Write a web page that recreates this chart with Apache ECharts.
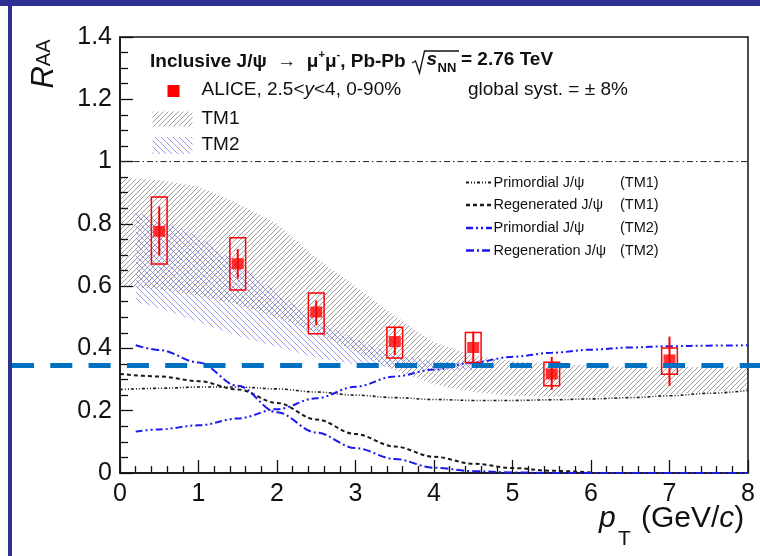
<!DOCTYPE html>
<html>
<head>
<meta charset="utf-8">
<script src="https://cdn.jsdelivr.net/npm/echarts@6/dist/echarts.min.js"></script>
<style>
  html, body { margin: 0; padding: 0; background: #ffffff; }
  #chart { width: 760px; height: 556px; }
</style>
</head>
<body>
<div id="chart"></div>
<script>
// ---- ALICE inclusive J/psi R_AA vs pT (2.5<y<4, 0-90%) ----
const ptCenters = [0.5, 1.5, 2.5, 3.5, 4.5, 5.5, 7];
const raa       = [0.776, 0.672, 0.517, 0.422, 0.403, 0.318, 0.363];
const statLow   = [0.698, 0.624, 0.474, 0.379, 0.355, 0.267, 0.280];
const statHigh  = [0.856, 0.719, 0.554, 0.466, 0.454, 0.373, 0.438];
const systLow   = [0.671, 0.588, 0.447, 0.369, 0.355, 0.280, 0.317];
const systHigh  = [0.886, 0.755, 0.578, 0.468, 0.451, 0.356, 0.401];

// ---- TM1 model band ----
const tm1Pt    = [0, 0.5, 1, 1.5, 2, 2.5, 3, 3.5, 4, 4.5, 5, 5.5, 6, 6.5, 7, 7.5, 8];
const tm1Upper = [0.95, 0.94, 0.92, 0.865, 0.80, 0.69, 0.60, 0.505, 0.42, 0.377, 0.36, 0.35, 0.345, 0.34, 0.34, 0.34, 0.342];
const tm1Lower = [0.60, 0.59, 0.57, 0.54, 0.50, 0.45, 0.39, 0.33, 0.285, 0.26, 0.248, 0.245, 0.245, 0.248, 0.252, 0.26, 0.268];

// ---- TM2 model band ----
const tm2Pt    = [0.2, 0.5, 1, 1.5, 2, 2.5, 3, 3.5, 4, 4.5];
const tm2Upper = [0.84, 0.81, 0.76, 0.67, 0.58, 0.49, 0.43, 0.378, 0.36, 0.355];
const tm2Lower = [0.55, 0.53, 0.485, 0.44, 0.405, 0.37, 0.348, 0.338, 0.333, 0.33];

// ---- model components ----
const tm1CurvePt      = [0, 0.5, 1, 1.5, 2, 2.5, 3, 3.5, 4, 4.5, 5, 5.5, 6, 6.5, 7, 7.5, 8];
const primordialTM1   = [0.268, 0.272, 0.276, 0.276, 0.27, 0.26, 0.25, 0.242, 0.236, 0.233, 0.233, 0.235, 0.238, 0.242, 0.248, 0.256, 0.265];
const regenPtTM1      = [0, 0.5, 1, 1.5, 2, 2.5, 3, 3.5, 4, 4.5, 5, 5.5, 6];
const regeneratedTM1  = [0.318, 0.31, 0.295, 0.268, 0.225, 0.172, 0.125, 0.085, 0.052, 0.03, 0.016, 0.007, 0.002];
const tm2CurvePt      = [0.2, 0.5, 1, 1.5, 2, 2.5, 3, 3.5, 4, 4.5, 5, 5.5, 6, 6.5, 7, 7.5, 8];
const primordialTM2   = [0.133, 0.14, 0.153, 0.175, 0.205, 0.24, 0.277, 0.31, 0.332, 0.355, 0.373, 0.386, 0.396, 0.403, 0.407, 0.409, 0.41];
const regenerationTM2 = [0.41, 0.395, 0.355, 0.28, 0.195, 0.13, 0.08, 0.045, 0.017, 0.006, 0.002, 0, 0, 0, 0, 0, 0];

// ---- reference levels and axis ranges ----
const unityLevel = 1;
const referenceLevel = 0.345;
const xMin = 0, xMax = 8, xStep = 1;
const yMin = 0, yMax = 1.4, yStep = 0.2;
const BOX_HALF_WIDTH = 0.1;

const FONT = '"Liberation Sans", Arial, Helvetica, sans-serif';
const RED = '#ff0000';
const BLUE = '#1a1aee';
const DARK = '#1a1a1a';
const NAVY = '#2e3192';

// Dash patterns for the model curves
const dashPrimTM1  = [3, 2, 1, 2, 1, 2];
const dashRegenTM1 = [4, 3];
const dashPrimTM2  = [7, 3, 2, 3, 2, 3];
const dashRegenTM2 = [8, 3, 2, 3];

// Hatch fill patterns
function hatchCanvas(size, color, width, forward) {
  const c = document.createElement('canvas');
  c.width = size; c.height = size;
  const g = c.getContext('2d');
  g.strokeStyle = color;
  g.lineWidth = width;
  g.beginPath();
  if (forward) {
    g.moveTo(-1, size + 1); g.lineTo(size + 1, -1);
    g.moveTo(-1, 1); g.lineTo(1, -1);
    g.moveTo(size - 1, size + 1); g.lineTo(size + 1, size - 1);
  } else {
    g.moveTo(-1, -1); g.lineTo(size + 1, size + 1);
    g.moveTo(size - 1, -1); g.lineTo(size + 1, 1);
    g.moveTo(-1, size - 1); g.lineTo(1, size + 1);
  }
  g.stroke();
  return c;
}
const grayHatch = { image: hatchCanvas(5, 'rgba(50,50,50,0.6)', 0.8, true), repeat: 'repeat' };
const blueHatch = { image: hatchCanvas(6, 'rgba(110,110,240,0.7)', 1, false), repeat: 'repeat' };

function bandSeries(name, xs, lo, hi, fill, z) {
  return {
    type: 'custom', name: name, z: z, silent: true, clip: true,
    data: [[xs[0], lo[0], hi[0]]],
    renderItem: function (params, api) {
      const pts = [];
      for (let i = 0; i < xs.length; i++) pts.push(api.coord([xs[i], hi[i]]));
      for (let i = xs.length - 1; i >= 0; i--) pts.push(api.coord([xs[i], lo[i]]));
      return { type: 'polygon', shape: { points: pts }, style: { fill: fill, stroke: null } };
    }
  };
}

function curveSeries(name, xs, ys, color, dash, width) {
  return {
    type: 'line', name: name, z: 3, silent: true,
    data: xs.map((x, i) => [x, ys[i]]),
    showSymbol: false, symbol: 'none',
    smooth: 0.35, smoothMonotone: 'x',
    lineStyle: { color: color, width: width, type: dash }
  };
}

const chart = echarts.init(document.getElementById('chart'), null, { renderer: 'canvas' });

const option = {
  animation: false,
  backgroundColor: '#ffffff',
  grid: {
    left: 120, right: 12, top: 37, bottom: 83,
    show: true, borderColor: '#111', borderWidth: 1.5, backgroundColor: 'transparent'
  },
  xAxis: {
    type: 'value', min: xMin, max: xMax, interval: xStep,
    axisLine: { show: true, onZero: false, lineStyle: { color: '#111', width: 1.5 } },
    axisTick: { show: true, inside: true, length: 13, lineStyle: { color: '#111', width: 1.3 } },
    minorTick: { show: true, splitNumber: 5, length: 7, lineStyle: { color: '#111', width: 1.3 } },
    splitLine: { show: false },
    axisLabel: { color: '#111', fontSize: 25, fontFamily: FONT, margin: 9 }
  },
  yAxis: {
    type: 'value', min: yMin, max: yMax, interval: yStep,
    axisLine: { show: true, onZero: false, lineStyle: { color: '#111', width: 1.5 } },
    axisTick: { show: true, inside: true, length: 13, lineStyle: { color: '#111', width: 1.3 } },
    minorTick: { show: true, splitNumber: 4, length: 8, lineStyle: { color: '#111', width: 1.3 } },
    splitLine: { show: false },
    axisLabel: { color: '#111', fontSize: 25, fontFamily: FONT, margin: 8 }
  },
  series: [
    bandSeries('TM1', tm1Pt, tm1Lower, tm1Upper, grayHatch, 1),
    bandSeries('TM2', tm2Pt, tm2Lower, tm2Upper, blueHatch, 2),
    {
      type: 'line', name: 'unity', z: 2, silent: true,
      data: [[xMin, unityLevel], [xMax, unityLevel]],
      symbol: 'none',
      lineStyle: { color: '#222', width: 1, type: [6, 3, 1.5, 3] }
    },
    curveSeries('Primordial J/ψ (TM1)', tm1CurvePt, primordialTM1, DARK, dashPrimTM1, 1.6),
    curveSeries('Regenerated J/ψ (TM1)', regenPtTM1, regeneratedTM1, DARK, dashRegenTM1, 2),
    curveSeries('Primordial J/ψ (TM2)', tm2CurvePt, primordialTM2, BLUE, dashPrimTM2, 2),
    curveSeries('Regeneration J/ψ (TM2)', tm2CurvePt, regenerationTM2, BLUE, dashRegenTM2, 2),
    {
      type: 'custom', name: 'syst', z: 4, silent: true,
      data: ptCenters.map((x, i) => [x, systLow[i], systHigh[i]]),
      encode: { x: 0, y: [1, 2] },
      renderItem: function (params, api) {
        const x = api.value(0), lo = api.value(1), hi = api.value(2);
        const a = api.coord([x - BOX_HALF_WIDTH, hi]);
        const b = api.coord([x + BOX_HALF_WIDTH, lo]);
        return {
          type: 'rect',
          shape: { x: a[0], y: a[1], width: b[0] - a[0], height: b[1] - a[1] },
          style: { fill: null, stroke: RED, lineWidth: 1.5 }
        };
      }
    },
    {
      type: 'custom', name: 'stat', z: 5, silent: true,
      data: ptCenters.map((x, i) => [x, statLow[i], statHigh[i]]),
      encode: { x: 0, y: [1, 2] },
      renderItem: function (params, api) {
        const x = api.value(0);
        const a = api.coord([x, api.value(1)]);
        const b = api.coord([x, api.value(2)]);
        return {
          type: 'line',
          shape: { x1: a[0], y1: a[1], x2: b[0], y2: b[1] },
          style: { stroke: RED, lineWidth: 2 }
        };
      }
    },
    {
      type: 'scatter', name: 'ALICE', z: 6, silent: true,
      data: ptCenters.map((x, i) => [x, raa[i]]),
      symbol: 'rect', symbolSize: [12, 11],
      itemStyle: { color: RED }
    }
  ]
};
chart.setOption(option);

// ---- annotations, legends and frame ----
const refY = chart.convertToPixel({ yAxisIndex: 0 }, referenceLevel);

function txt(id, x, y, text, size, extra) {
  return Object.assign({
    type: 'text', id: id, x: x, y: y, z: 50, silent: true,
    style: Object.assign({
      text: text, fill: '#111', font: size + 'px ' + FONT,
      textAlign: 'left', textVerticalAlign: 'middle'
    }, extra || {})
  });
}

const legendRows = [
  { label: 'Primordial J/ψ', tag: '(TM1)', color: DARK, dash: dashPrimTM1, w: 1.6 },
  { label: 'Regenerated J/ψ', tag: '(TM1)', color: DARK, dash: dashRegenTM1, w: 2 },
  { label: 'Primordial J/ψ', tag: '(TM2)', color: BLUE, dash: dashPrimTM2, w: 2 },
  { label: 'Regeneration J/ψ', tag: '(TM2)', color: BLUE, dash: dashRegenTM2, w: 2 }
];
const legendRowY = [182.5, 205, 228, 250.5];

const graphics = [
  // outer frame
  { type: 'rect', id: 'frameTop', z: 60, silent: true, shape: { x: 0, y: 0, width: 760, height: 6 }, style: { fill: NAVY } },
  { type: 'rect', id: 'frameLeft', z: 60, silent: true, shape: { x: 8, y: 0, width: 4, height: 556 }, style: { fill: NAVY } },
  // reference dashed level
  {
    type: 'line', id: 'refLine', z: 55, silent: true,
    shape: { x1: 12, y1: refY, x2: 760, y2: refY },
    style: { stroke: '#0070c0', lineWidth: 5, lineDash: [22, 16.3] }
  },
  // y axis title
  {
    type: 'text', id: 'yTitle', x: 44, y: 64, rotation: Math.PI / 2, z: 50, silent: true,
    style: {
      text: '{r|R}{s|AA}', textAlign: 'center', textVerticalAlign: 'middle',
      rich: {
        r: { fontSize: 31, fontStyle: 'italic', fontFamily: FONT, fill: '#111', verticalAlign: 'middle', lineHeight: 34 },
        s: { fontSize: 20, fontFamily: FONT, fill: '#111', verticalAlign: 'middle', lineHeight: 34 }
      }
    }
  },
  // x axis title
  txt('xTitleP', 599, 519, 'p', 30, { font: 'italic 30px ' + FONT }),
  txt('xTitleT', 618, 539, 'T', 21),
  {
    type: 'text', id: 'xTitleUnit', x: 641, y: 519, z: 50, silent: true,
    style: {
      text: '{n|(GeV/}{c|c}{n|)}', textAlign: 'left', textVerticalAlign: 'middle',
      rich: {
        n: { fontSize: 30, fontFamily: FONT, fill: '#111' },
        c: { fontSize: 30, fontFamily: FONT, fontStyle: 'italic', fill: '#111' }
      }
    }
  },
  // header line
  {
    type: 'text', id: 'header', x: 150, y: 60, z: 50, silent: true,
    style: {
      text: '{b|Inclusive J/ψ  →  μ}{p|+}{b|μ}{p|-}{b|, Pb-Pb}',
      textAlign: 'left', textVerticalAlign: 'middle',
      rich: {
        b: { fontSize: 19, fontWeight: 'bold', fontFamily: FONT, fill: '#111', verticalAlign: 'bottom', lineHeight: 22 },
        p: { fontSize: 11, fontWeight: 'bold', fontFamily: FONT, fill: '#111', verticalAlign: 'top', lineHeight: 22 }
      }
    }
  },
  {
    type: 'polyline', id: 'sqrtSign', z: 50, silent: true,
    shape: { points: [[412, 63], [415.5, 61], [419.5, 73], [424.5, 51], [459, 51]] },
    style: { stroke: '#111', lineWidth: 1.3, fill: null }
  },
  txt('sqrtS', 426.5, 60, 's', 19, { font: 'italic bold 19px ' + FONT }),
  txt('sqrtNN', 437.5, 68.5, 'NN', 13, { font: 'bold 13px ' + FONT }),
  txt('energy', 461, 60, '= 2.76 TeV', 19, { font: 'bold 19px ' + FONT }),
  // data legend
  {
    type: 'rect', id: 'aliceKey', z: 50, silent: true,
    shape: { x: 167.5, y: 85, width: 12, height: 12 }, style: { fill: RED }
  },
  {
    type: 'text', id: 'aliceLabel', x: 201.5, y: 90, z: 50, silent: true,
    style: {
      text: '{n|ALICE, 2.5<}{i|y}{n|<4, 0-90%}', textAlign: 'left', textVerticalAlign: 'middle',
      rich: {
        n: { fontSize: 19, fontFamily: FONT, fill: '#111' },
        i: { fontSize: 19, fontFamily: FONT, fontStyle: 'italic', fill: '#111' }
      }
    }
  },
  txt('globalSyst', 468, 90, 'global syst. = ± 8%', 19),
  {
    type: 'rect', id: 'tm1Key', z: 50, silent: true,
    shape: { x: 152.5, y: 111.5, width: 40, height: 15 }, style: { fill: grayHatch }
  },
  txt('tm1Label', 201.5, 118.5, 'TM1', 19),
  {
    type: 'rect', id: 'tm2Key', z: 50, silent: true,
    shape: { x: 152.5, y: 137, width: 40, height: 17 }, style: { fill: blueHatch }
  },
  txt('tm2Label', 201.5, 145, 'TM2', 19)
];

legendRows.forEach(function (row, i) {
  const y = legendRowY[i];
  graphics.push({
    type: 'line', id: 'legLine' + i, z: 50, silent: true,
    shape: { x1: 466, y1: y, x2: 492, y2: y },
    style: { stroke: row.color, lineWidth: row.w + 0.6, lineDash: row.dash }
  });
  graphics.push(txt('legText' + i, 493.5, y, row.label, 14.5));
  graphics.push(txt('legTag' + i, 620, y, row.tag, 14.5));
});

chart.setOption({ graphic: graphics });
</script>
</body>
</html>
